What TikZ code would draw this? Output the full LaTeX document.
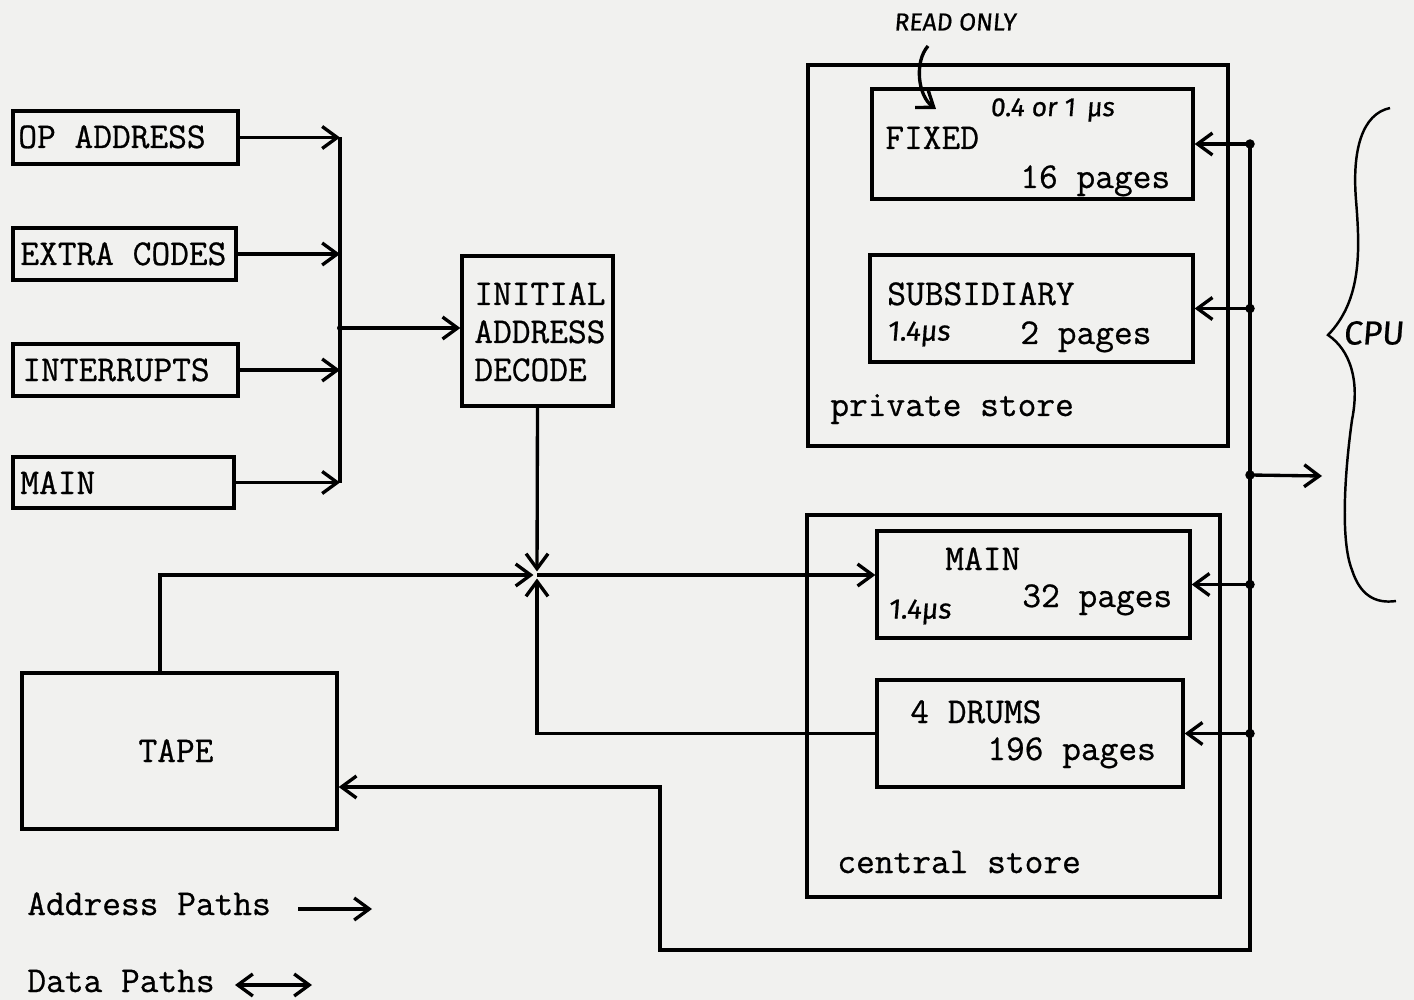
\documentclass[tikz,border=0pt]{standalone}
\usepackage{fontspec}
\usetikzlibrary{arrows.meta,fit}
\newfontfamily\hand{Fira Sans}[FakeBold=0.6,FakeSlant=0.08]
\newfontfamily\ttb{Latin Modern Mono}[FakeBold=0.7]
\definecolor{paper}{RGB}{241,241,239}
\tikzset{
  box/.style={draw, line width=1.9pt, inner sep=0pt},
  tt/.style={font=\ttb\fontsize{20.7}{22}\selectfont, inner sep=0pt, anchor=base west},
  hw/.style={font=\hand\fontsize{15}{18}\selectfont, inner sep=0pt},
  conn/.style={line width=1.9pt},
  arr/.style={conn, -{Straight Barb[length=0.3cm,width=0.44cm,line width=1.9pt]}},
  darr/.style={conn, {Straight Barb[length=0.3cm,width=0.44cm,line width=1.9pt]}-{Straight Barb[length=0.3cm,width=0.44cm,line width=1.9pt]}},
  jdot/.style={circle, fill, inner sep=0pt, minimum size=0.19cm},
}
\begin{document}
\begin{tikzpicture}[x=0.02cm,y=-0.02cm]
\fill[paper] (0,0) rectangle (1414,1000);
\useasboundingbox (0,0) rectangle (1414,1000);

% left input boxes
\node[box, fit={(13,111) (238,164)}] (opaddr) {};
\node[tt] (topaddr) at (18,148) {OP ADDRESS};
\node[box, fit={(13,228) (236,280)}] (extra) {};
\node[tt] (textra) at (20,265) {EXTRA CODES};
\node[box, fit={(13,344) (238,396)}] (intr) {};
\node[tt] (tintr) at (22,381) {INTERRUPTS};
\node[box, fit={(13,457) (234,508)}] (mainin) {};
\node[tt] (tmainin) at (20,494) {MAIN};

% initial address decode
\node[box, fit={(462,256) (613,406)}] (init) {};
\node[tt] (tinit1) at (474,305) {INITIAL};
\node[tt] (tinit2) at (474,343) {ADDRESS};
\node[tt] (tinit3) at (474,381) {DECODE};

% tape
\node[box, fit={(22,673) (337,829)}] (tape) {};
\node[tt, anchor=base] (ttape) at (176,762) {TAPE};

% private store
\node[box, fit={(808,65) (1228,446)}] (priv) {};
\node[tt] (tpriv) at (830,416) {private store};
\node[box, fit={(872,89) (1193,199)}] (fixed) {};
\node[tt] (tfixed) at (885,149) {FIXED};
\node[tt] (tfixedp) at (1020,188) {16 pages};
\node[hw, anchor=west] (tfixeds) at (990,110) {0.4 or 1 \,μs};
\node[box, fit={(870,255) (1193,362)}] (subs) {};
\node[tt] (tsubs) at (887,305) {SUBSIDIARY};
\node[tt] (tsubsp) at (1020,344) {2 pages};
\node[hw, anchor=west, font=\hand\fontsize{16}{18}\selectfont] (tsubss) at (887,334) {1.4μs};

% central store
\node[box, fit={(807,515) (1220,897)}] (cent) {};
\node[tt] (tcent) at (837,873) {central store};
\node[box, fit={(877,531) (1190,638)}] (cmain) {};
\node[tt] (tcmain) at (945,570) {MAIN};
\node[tt] (tcmainp) at (1022,607) {32 pages};
\node[hw, anchor=west, font=\hand\fontsize{16}{18}\selectfont] (tcmains) at (888,612) {1.4μs};
\node[box, fit={(877,680) (1183,787)}] (drums) {};
\node[tt] (tdrums) at (910,723) {4 DRUMS};
\node[tt] (tdrumsp) at (987,760) {196 pages};

% read only
\node[hw, font=\hand\fontsize{14}{16}\selectfont] (ro) at (955,22) {READ ONLY};
\coordinate (roS) at (928,46);
\coordinate (roE) at (936,109);
\draw[arr] (roS) .. controls (914,62) and (918,96) .. (roE);

% address paths: inputs to decode
\coordinate (jL) at (340,328);
\draw[arr] (opaddr.east) -- (opaddr.east -| jL);
\draw[arr] (extra.east) -- (extra.east -| jL);
\draw[arr] (intr.east) -- (intr.east -| jL);
\draw[arr] (mainin.east) -- (mainin.east -| jL);
\draw[conn] (opaddr.east -| jL) -- (mainin.east -| jL);
\node[jdot, minimum size=0.12cm] (jLd) at (jL) {};
\draw[arr] (jL) -- (jL -| init.west);

% star junction
\coordinate (X) at (537,575);
\draw[arr, shorten >=2pt] (init.south) -- (X);
\coordinate (tapeUp) at ([xshift=-0.39cm]tape.north);
\draw[arr, shorten >=2pt] (tapeUp) -- (tapeUp |- X) -- (X);
\draw[arr] (X) -- (X -| cmain.west);
\draw[arr, shorten >=2pt] (drums.west) -- (drums.west -| X) -- (X);

% data paths
\coordinate (bTop) at (1250,144);
\coordinate (bBot) at (1250,950);
\coordinate (lowL) at (660,950);
\coordinate (tin) at ([yshift=-0.72cm]tape.east);
\draw[arr] (bTop) -- (bBot) -- (lowL) -- (lowL |- tin) -- (tin);
\draw[arr] (fixed.east -| bTop) -- (fixed.east);
\draw[arr] (subs.east -| bTop) -- (subs.east);
\draw[arr] (cmain.east -| bTop) -- (cmain.east);
\draw[arr] (drums.east -| bTop) -- (drums.east);
\node[jdot] (d1) at (fixed.east -| bTop) {};
\node[jdot] (d2) at (subs.east -| bTop) {};
\node[jdot] (d3) at (cmain.east -| bTop) {};
\node[jdot] (d4) at (drums.east -| bTop) {};
\coordinate (cpuJ) at (1250,475);
\node[jdot] (d5) at (cpuJ) {};
\coordinate (cpuIn) at (1322,476);
\draw[arr] (cpuJ) -- (cpuIn);

% CPU brace
\draw[line width=1.4pt] (1390,108) .. controls (1362,114) and (1352,150) .. (1356,200)
  .. controls (1360,250) and (1362,300) .. (1328,335)
  .. controls (1350,350) and (1360,380) .. (1352,420)
  .. controls (1345,470) and (1340,540) .. (1352,570)
  .. controls (1360,595) and (1375,604) .. (1396,601);
\node[hw, anchor=west, font=\hand\fontsize{19}{22}\selectfont] (cpu) at (1343,333) {CPU};

% legend
\node[tt] (lAddr) at (27,915) {Address Paths};
\coordinate (lA1) at (298,909);
\coordinate (lA2) at (372,909);
\draw[arr] (lA1) -- (lA2);
\node[tt] (lData) at (27,992) {Data Paths};
\coordinate (lD1) at (235,985);
\coordinate (lD2) at (312,985);
\draw[darr] (lD1) -- (lD2);
\end{tikzpicture}
\end{document}
